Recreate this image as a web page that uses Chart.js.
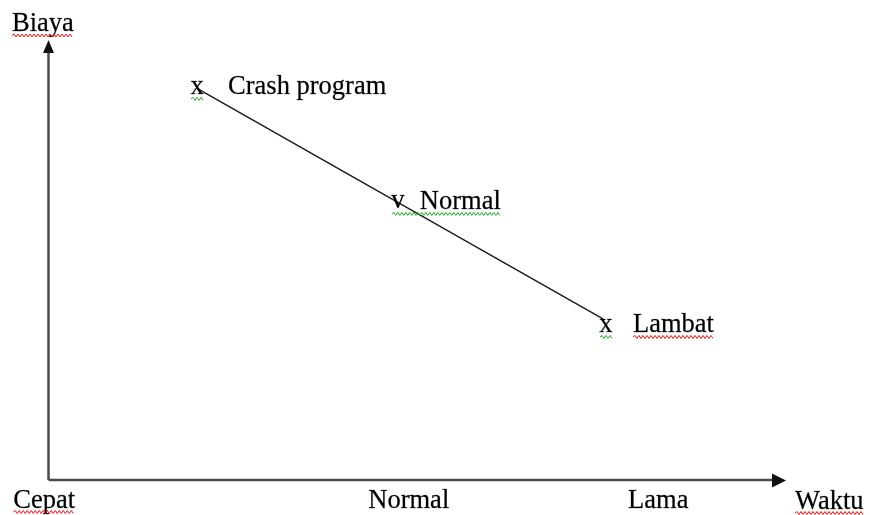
<!DOCTYPE html>
<html>
<head>
<meta charset="utf-8">
<script src="https://cdn.jsdelivr.net/npm/chart.js@4"></script>
<style>
  html, body { margin: 0; padding: 0; background: #fff; }
  #wrap { width: 870px; height: 515px; }
</style>
</head>
<body>
<div id="wrap"><canvas id="chart" width="870" height="515"></canvas></div>
<script>
// points along the cost / time line
const pointNames = ['Crash program', 'Normal', 'Lambat'];
const pointMarks = ['x', 'v', 'x'];
const waktuValues = [20.2, 47.4, 75.2];
const biayaValues = [89.0, 63.1, 36.6];

// labels under the x axis
const xTickLabels = ['Cepat', 'Normal', 'Lama'];
const xTickValues = [-4.7, 43.4, 78.6];

const yTitle = 'Biaya';
const xTitle = 'Waktu';

const FONT = '26.5px "Liberation Serif", "Times New Roman", serif';
const RED = '#f01010';
const GREEN = '#20a820';

function wavy(c, x0, x1, y, color) {
  c.save();
  c.strokeStyle = color;
  c.lineWidth = 1;
  c.beginPath();
  let up = true;
  c.moveTo(x0, y);
  for (let x = x0 + 2; x <= x1; x += 2) {
    c.lineTo(x, up ? y - 1.5 : y + 1.5);
    up = !up;
  }
  c.stroke();
  c.restore();
}

// draw text with a hairline stroke so it looks a bit heavier, like the original
function text(c, s, x, y) {
  c.fillText(s, x, y);
  c.strokeText(s, x, y);
}

const diagram = {
  id: 'diagram',
  afterDatasetsDraw(chart) {
    const c = chart.ctx;
    const a = chart.chartArea;
    const xs = chart.scales.x;
    const ox = a.left + 0.5;
    const oy = a.bottom;

    c.save();
    // axes
    c.strokeStyle = '#4a4a4a';
    c.lineWidth = 2.5;
    c.beginPath();
    c.moveTo(ox, oy);
    c.lineTo(ox, a.top + 10);
    c.moveTo(ox, oy);
    c.lineTo(a.right - 10, oy);
    c.stroke();
    c.fillStyle = '#111';
    c.beginPath();
    c.moveTo(ox, a.top);
    c.lineTo(ox - 5.5, a.top + 13);
    c.lineTo(ox + 5.5, a.top + 13);
    c.closePath();
    c.fill();
    c.beginPath();
    c.moveTo(a.right, oy + 0.5);
    c.lineTo(a.right - 14, oy - 6.5);
    c.lineTo(a.right - 14, oy + 7.5);
    c.closePath();
    c.fill();

    c.font = FONT;
    c.fillStyle = '#000';
    c.strokeStyle = 'rgba(0,0,0,0.55)';
    c.lineWidth = 0.4;
    c.textAlign = 'left';
    c.textBaseline = 'alphabetic';

    // axis titles
    text(c, yTitle, 12, a.top - 9);
    let w = c.measureText(yTitle).width;
    wavy(c, 12, 12 + w, a.top - 4.5, RED);
    text(c, xTitle, a.right + 9, oy + 29);
    w = c.measureText(xTitle).width;
    wavy(c, a.right + 9, a.right + 9 + w, oy + 33, RED);

    // tick labels
    xTickLabels.forEach((t, i) => {
      const tx = xs.getPixelForValue(xTickValues[i]);
      text(c, t, tx, oy + 28);
      if (i === 0) wavy(c, tx, tx + c.measureText(t).width, oy + 32, RED);
    });

    // point marks and labels
    const markShift = [[0, 0], [0, 0], [3, 7.5]];
    const labelGap = [31, 22, 27];
    const meta = chart.getDatasetMeta(0);
    meta.data.forEach((p, i) => {
      const cx = p.x + markShift[i][0];
      const cy = p.y + markShift[i][1];
      const base = cy + 5.5;
      c.textAlign = 'center';
      text(c, pointMarks[i], cx, base);
      c.textAlign = 'left';
      const lx = cx + labelGap[i];
      text(c, pointNames[i], lx, base + (i === 1 ? 1 : 0));
      const lw = c.measureText(pointNames[i]).width;
      if (i === 1) {
        wavy(c, cx - 6, lx + lw, base + 6, GREEN);
      } else {
        wavy(c, cx - 6, cx + 7, base + 5, GREEN);
        if (i === 2) wavy(c, lx, lx + lw, base + 5, RED);
      }
    });
    c.restore();
  }
};

new Chart(document.getElementById('chart'), {
  type: 'scatter',
  data: {
    datasets: [{
      data: waktuValues.map((v, i) => ({ x: v, y: biayaValues[i] })),
      showLine: true,
      borderColor: '#1a1a1a',
      borderWidth: 1.4,
      pointRadius: 0,
      fill: false
    }]
  },
  options: {
    responsive: false,
    animation: false,
    layout: { padding: { left: 48, right: 84, top: 40, bottom: 35 } },
    scales: {
      x: { type: 'linear', min: 0, max: 100, display: false },
      y: { type: 'linear', min: 0, max: 100, display: false }
    },
    plugins: {
      legend: { display: false },
      tooltip: { enabled: false }
    }
  },
  plugins: [diagram]
});
</script>
</body>
</html>
